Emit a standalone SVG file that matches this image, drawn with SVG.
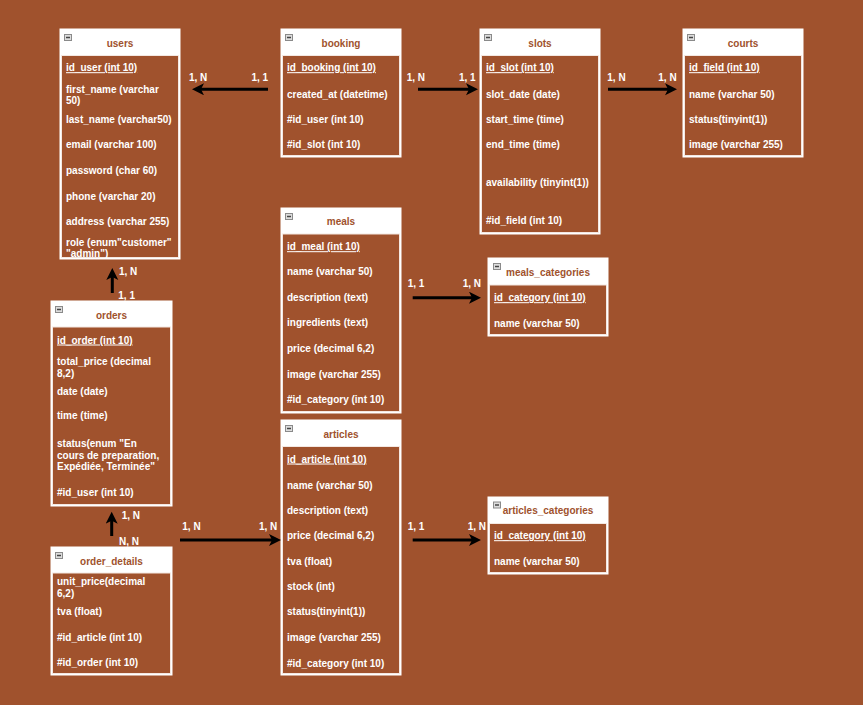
<svg xmlns="http://www.w3.org/2000/svg" width="863" height="705" viewBox="0 0 863 705">
<defs>
<style>
.bg{fill:#A0522D}
.frame{fill:#ffffff;stroke:#ffffff;stroke-width:1}
.body{fill:#A0522D;stroke:#f4e8e2;stroke-width:1}
.title{font-family:"Liberation Sans",Arial,sans-serif;font-size:10px;font-weight:bold;fill:#A0522D;text-anchor:middle}
.row{font-family:"Liberation Sans",Arial,sans-serif;font-size:10px;font-weight:bold;fill:#ffffff}
.pk{text-decoration:underline}
.ico{fill:#dddddd;stroke:#8a8a8a;stroke-width:1}
.icl{stroke:#444444;stroke-width:1.5}
.conn{stroke:#000000;stroke-width:3;fill:none}
.card{font-family:"Liberation Sans",Arial,sans-serif;font-size:10px;font-weight:bold;fill:#ffffff}
</style>
<marker id="ah" markerUnits="userSpaceOnUse" markerWidth="14" markerHeight="14" refX="4" refY="6" orient="auto">
<path d="M0,0 L12,6 L0,12 L3,6 Z" fill="#000000"/>
</marker>
<g id="icon"><rect class="ico" x="0.5" y="0.5" width="7" height="6"/><line class="icl" x1="2" y1="3.5" x2="6" y2="3.5"/></g>
</defs>
<rect class="bg" x="0" y="0" width="863" height="705"/>

<g id="users" transform="translate(60,29)">
<rect class="frame" x="0" y="0" width="120" height="230"/>
<rect class="body" x="1.5" y="26.5" width="117" height="202"/>
<use href="#icon" x="4" y="5"/>
<text class="title" x="60" y="17.5">users</text>
<text class="row pk" x="6" y="42.2">id_user (int 10)</text>
<text class="row" x="6" y="63.5">first_name (varchar</text>
<text class="row" x="6" y="74.8">50)</text>
<text class="row" x="6" y="93.5">last_name (varchar50)</text>
<text class="row" x="6" y="118.8">email (varchar 100)</text>
<text class="row" x="6" y="144.5">password (char 60)</text>
<text class="row" x="6" y="170.5">phone (varchar 20)</text>
<text class="row" x="6" y="195.5">address (varchar 255)</text>
<text class="row" x="6" y="216.8">role (enum"customer"</text>
<text class="row" x="6" y="228.3">"admin")</text>
</g>

<g id="booking" transform="translate(281,29)">
<rect class="frame" x="0" y="0" width="120" height="128"/>
<rect class="body" x="1.5" y="26.5" width="117" height="100"/>
<use href="#icon" x="4" y="5"/>
<text class="title" x="60" y="17.5">booking</text>
<text class="row pk" x="6" y="42.2">id_booking (int 10)</text>
<text class="row" x="6" y="68.8">created_at (datetime)</text>
<text class="row" x="6" y="93.8">#id_user (int 10)</text>
<text class="row" x="6" y="118.8">#id_slot (int 10)</text>
</g>

<g id="slots" transform="translate(480,29)">
<rect class="frame" x="0" y="0" width="120" height="205"/>
<rect class="body" x="1.5" y="26.5" width="117" height="177"/>
<use href="#icon" x="4" y="5"/>
<text class="title" x="60" y="17.5">slots</text>
<text class="row pk" x="6" y="42.2">id_slot (int 10)</text>
<text class="row" x="6" y="68.8">slot_date (date)</text>
<text class="row" x="6" y="93.5">start_time (time)</text>
<text class="row" x="6" y="118.8">end_time (time)</text>
<text class="row" x="6" y="157.2">availability (tinyint(1))</text>
<text class="row" x="6" y="195.2">#id_field (int 10)</text>
</g>

<g id="courts" transform="translate(683,29)">
<rect class="frame" x="0" y="0" width="120" height="128"/>
<rect class="body" x="1.5" y="26.5" width="117" height="100"/>
<use href="#icon" x="4" y="5"/>
<text class="title" x="60" y="17.5">courts</text>
<text class="row pk" x="6" y="42.2">id_field (int 10)</text>
<text class="row" x="6" y="68.8">name (varchar 50)</text>
<text class="row" x="6" y="93.8">status(tinyint(1))</text>
<text class="row" x="6" y="118.8">image (varchar 255)</text>
</g>

<g id="meals" transform="translate(281,208)">
<rect class="frame" x="0" y="0" width="120" height="205"/>
<rect class="body" x="1.5" y="26" width="117" height="177.5"/>
<use href="#icon" x="4" y="5"/>
<text class="title" x="60" y="16.8">meals</text>
<text class="row pk" x="6" y="42.2">id_meal (int 10)</text>
<text class="row" x="6" y="67.2">name (varchar 50)</text>
<text class="row" x="6" y="92.8">description (text)</text>
<text class="row" x="6" y="118.2">ingredients (text)</text>
<text class="row" x="6" y="144.2">price (decimal 6,2)</text>
<text class="row" x="6" y="169.5">image (varchar 255)</text>
<text class="row" x="6" y="194.8">#id_category (int 10)</text>
</g>

<g id="meals_categories" transform="translate(488,258)">
<rect class="frame" x="0" y="0" width="120" height="78"/>
<rect class="body" x="1.5" y="27" width="117" height="49.5"/>
<use href="#icon" x="5" y="5"/>
<text class="title" x="60" y="17.5">meals_categories</text>
<text class="row pk" x="6" y="43.2">id_category (int 10)</text>
<text class="row" x="6" y="68.8">name (varchar 50)</text>
</g>

<g id="orders" transform="translate(51,301)">
<rect class="frame" x="0" y="0" width="121" height="205"/>
<rect class="body" x="1.5" y="26" width="118" height="177.5"/>
<use href="#icon" x="4" y="5"/>
<text class="title" x="60.5" y="17.8">orders</text>
<text class="row pk" x="6" y="42.5">id_order (int 10)</text>
<text class="row" x="6" y="64.2">total_price (decimal</text>
<text class="row" x="6" y="75.8">8,2)</text>
<text class="row" x="6" y="93.5">date (date)</text>
<text class="row" x="6" y="118.2">time (time)</text>
<text class="row" x="6" y="145.8">status(enum "En</text>
<text class="row" x="6" y="157.5">cours de preparation,</text>
<text class="row" x="6" y="169.2">Expédiée, Terminée"</text>
<text class="row" x="6" y="195.2">#id_user (int 10)</text>
</g>

<g id="articles" transform="translate(281,420)">
<rect class="frame" x="0" y="0" width="120" height="255"/>
<rect class="body" x="1.5" y="26.5" width="117" height="227"/>
<use href="#icon" x="4" y="5"/>
<text class="title" x="60" y="17.8">articles</text>
<text class="row pk" x="6" y="42.5">id_article (int 10)</text>
<text class="row" x="6" y="68.5">name (varchar 50)</text>
<text class="row" x="6" y="93.5">description (text)</text>
<text class="row" x="6" y="119.2">price (decimal 6,2)</text>
<text class="row" x="6" y="144.5">tva (float)</text>
<text class="row" x="6" y="170.2">stock (int)</text>
<text class="row" x="6" y="195.2">status(tinyint(1))</text>
<text class="row" x="6" y="221.2">image (varchar 255)</text>
<text class="row" x="6" y="246.8">#id_category (int 10)</text>
</g>

<g id="articles_categories" transform="translate(488,497)">
<rect class="frame" x="0" y="0" width="120" height="77"/>
<rect class="body" x="1.5" y="26.5" width="117" height="49"/>
<use href="#icon" x="5" y="4.5"/>
<text class="title" x="60" y="16.8">articles_categories</text>
<text class="row pk" x="6" y="42.2">id_category (int 10)</text>
<text class="row" x="6" y="67.5">name (varchar 50)</text>
</g>

<g id="order_details" transform="translate(51,547)">
<rect class="frame" x="0" y="0" width="121" height="128"/>
<rect class="body" x="1.5" y="26" width="118" height="100.5"/>
<use href="#icon" x="4" y="5"/>
<text class="title" x="60.5" y="17.8">order_details</text>
<text class="row" x="6" y="38.2">unit_price(decimal</text>
<text class="row" x="6" y="49.8">6,2)</text>
<text class="row" x="6" y="68.2">tva (float)</text>
<text class="row" x="6" y="93.8">#id_article (int 10)</text>
<text class="row" x="6" y="119.2">#id_order (int 10)</text>
</g>

<g id="connectors">
<line class="conn" x1="268" y1="89.3" x2="200" y2="89.3" marker-end="url(#ah)"/>
<text class="card" x="189" y="80.8">1, N</text>
<text class="card" x="251.5" y="80.8">1, 1</text>

<line class="conn" x1="418" y1="89.3" x2="470" y2="89.3" marker-end="url(#ah)"/>
<text class="card" x="406.7" y="80.8">1, N</text>
<text class="card" x="459" y="80.8">1, 1</text>

<line class="conn" x1="608" y1="89.3" x2="669" y2="89.3" marker-end="url(#ah)"/>
<text class="card" x="607.3" y="80.8">1, N</text>
<text class="card" x="658.3" y="80.8">1, N</text>

<line class="conn" x1="112.3" y1="293" x2="112.3" y2="276" marker-end="url(#ah)"/>
<text class="card" x="119" y="275">1, N</text>
<text class="card" x="118.3" y="298.5">1, 1</text>

<line class="conn" x1="111.7" y1="536" x2="111.7" y2="519.7" marker-end="url(#ah)"/>
<text class="card" x="121.7" y="518.5">1, N</text>
<text class="card" x="119" y="545">N, N</text>

<line class="conn" x1="180" y1="540" x2="273" y2="540" marker-end="url(#ah)"/>
<text class="card" x="182.3" y="530">1, N</text>
<text class="card" x="259" y="530">1, N</text>

<line class="conn" x1="412.7" y1="297.7" x2="473" y2="297.7" marker-end="url(#ah)"/>
<text class="card" x="407.7" y="286.8">1, 1</text>
<text class="card" x="462.7" y="286.8">1, N</text>

<line class="conn" x1="412.7" y1="540" x2="473" y2="540" marker-end="url(#ah)"/>
<text class="card" x="407.7" y="530">1, 1</text>
<text class="card" x="467.7" y="530">1, N</text>
</g>
</svg>
